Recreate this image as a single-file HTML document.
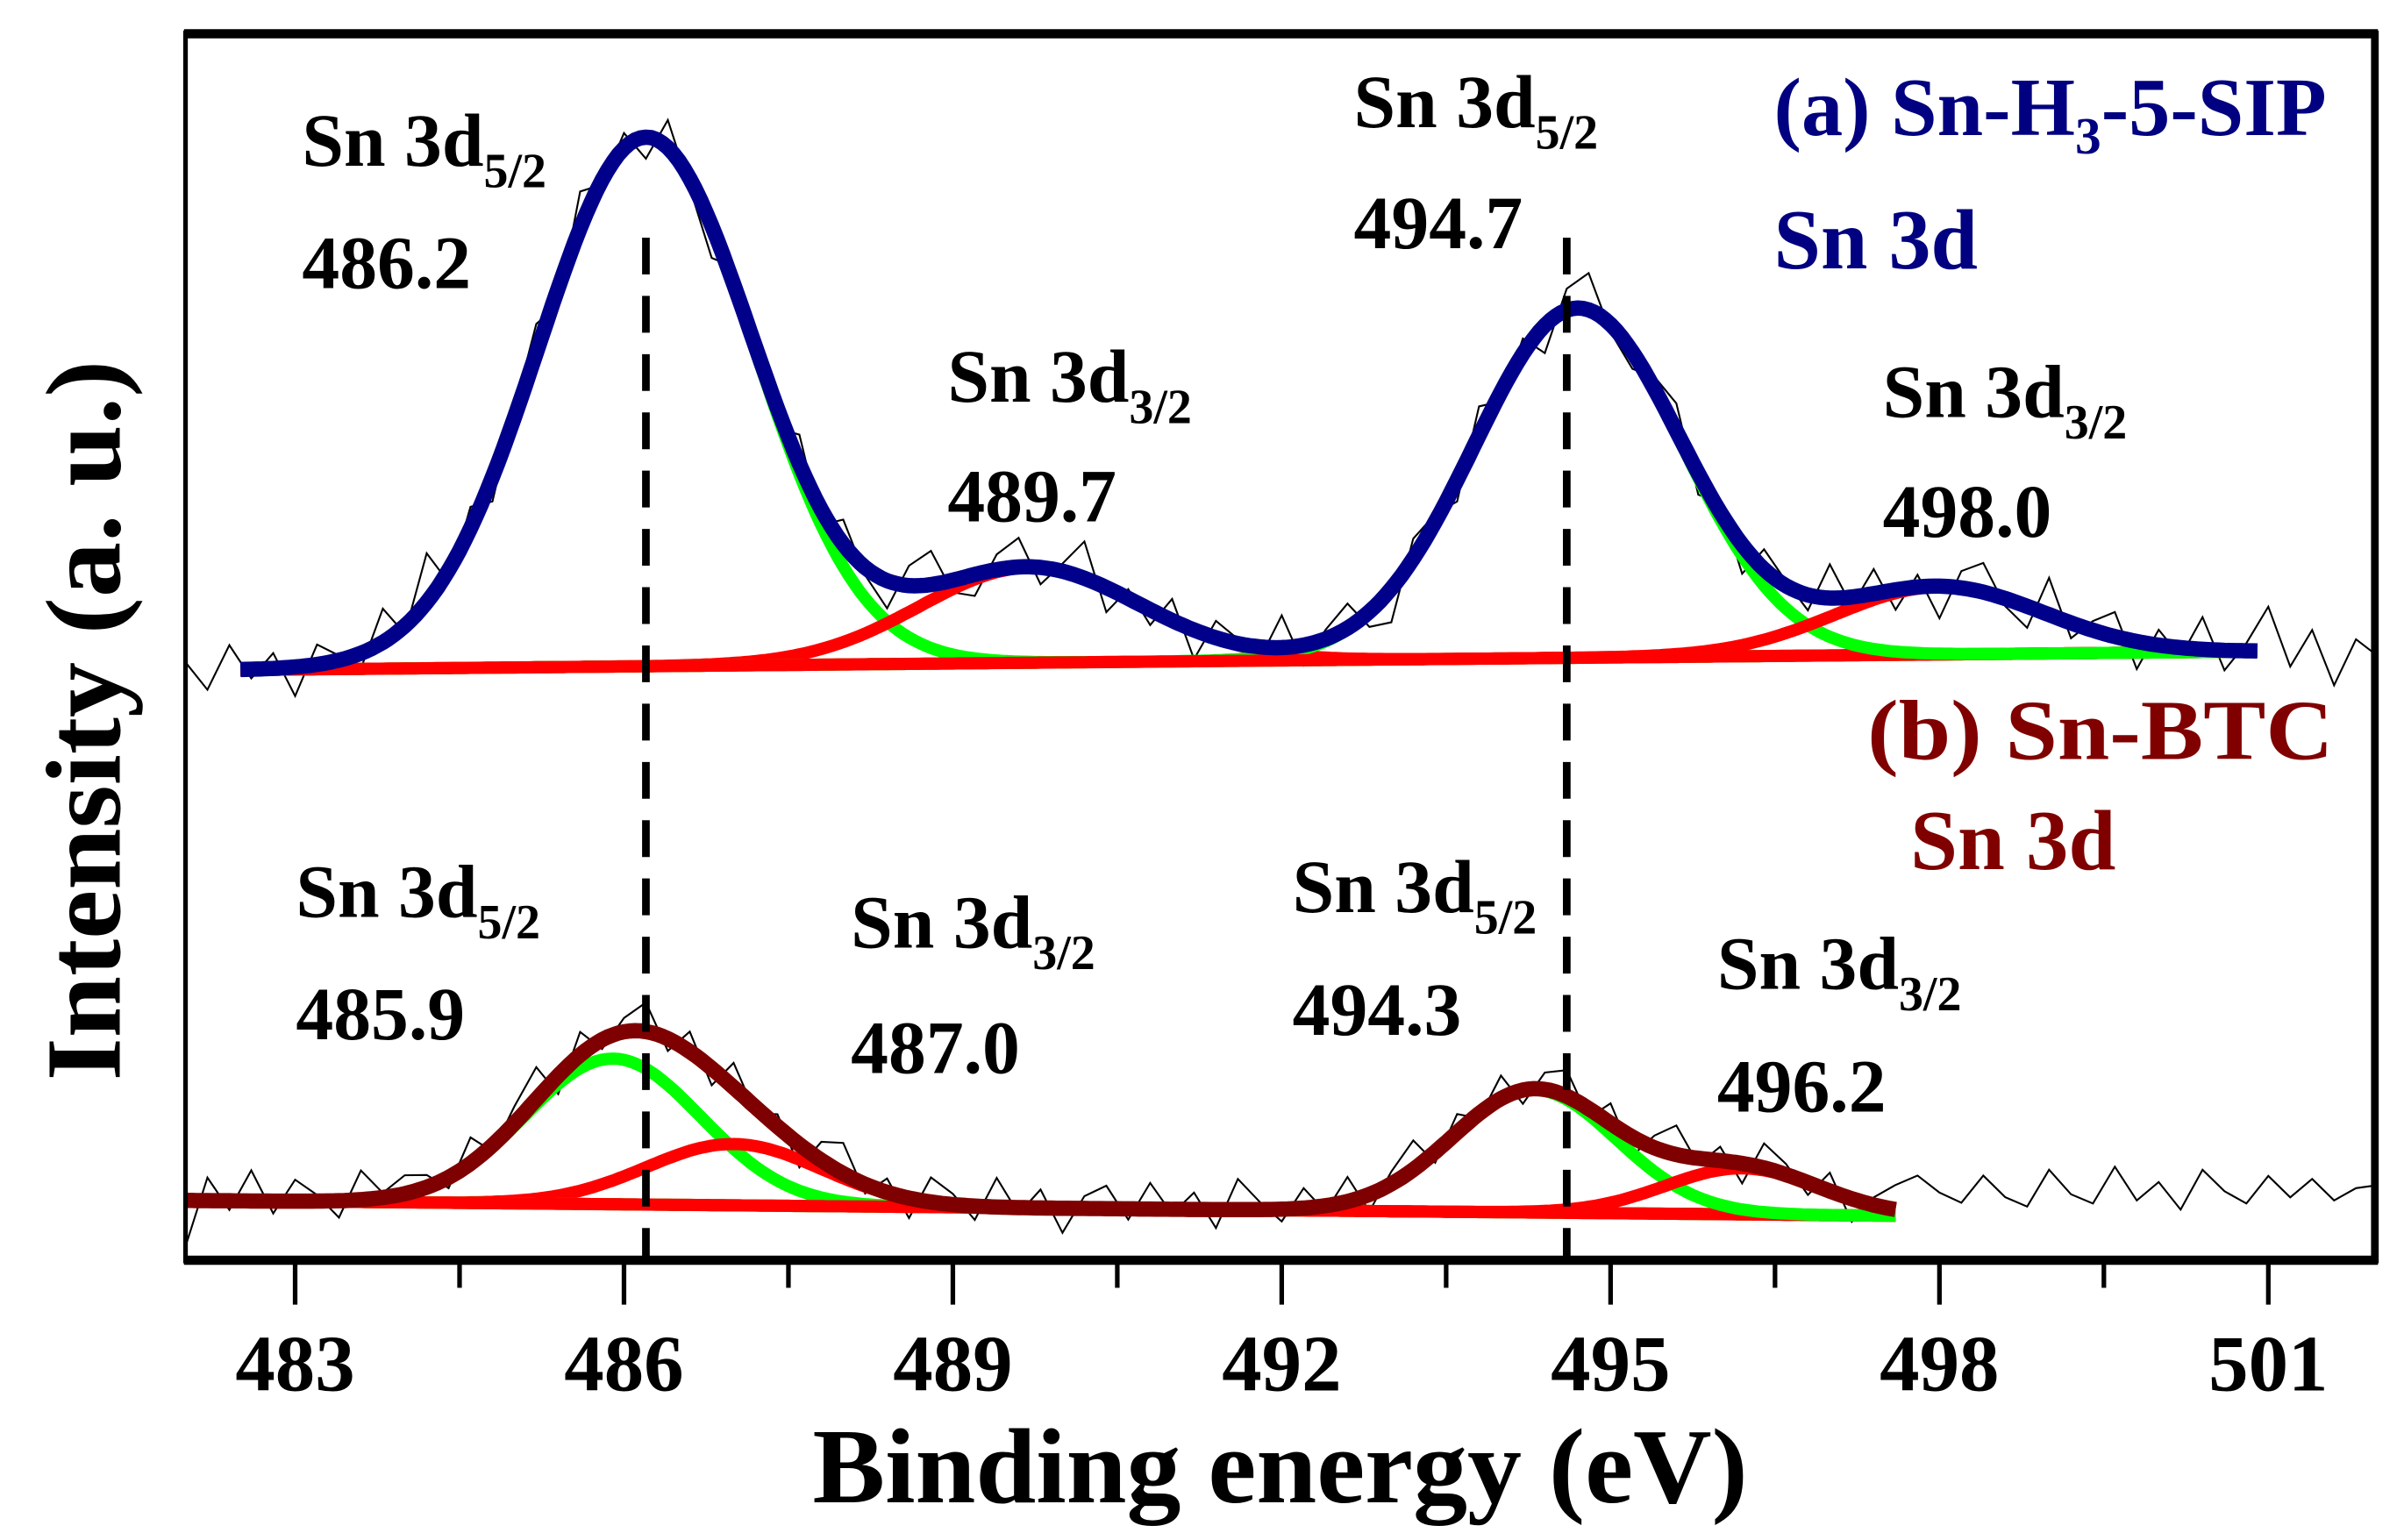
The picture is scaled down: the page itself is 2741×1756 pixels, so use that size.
<!DOCTYPE html>
<html><head><meta charset="utf-8">
<style>html,body{margin:0;padding:0;background:#fff}svg{display:block}
text{font-family:"Liberation Serif","Times New Roman",serif;font-weight:bold}</style></head>
<body>
<svg id="chart" width="2741" height="1756" viewBox="0 0 1568 1004.5" preserveAspectRatio="none" xmlns="http://www.w3.org/2000/svg">
<rect x="0" y="0" width="1568" height="1005" fill="#fff"/>
<g id="marks"></g>
<g id="frame">
<line x1="120" y1="22" x2="1551" y2="22" stroke="#000" stroke-width="6"/>
<line x1="121" y1="20" x2="121" y2="824" stroke="#000" stroke-width="3"/>
<line x1="1549" y1="20" x2="1549" y2="824" stroke="#000" stroke-width="5"/>
<line x1="120" y1="822" x2="1551" y2="822" stroke="#000" stroke-width="6"/>
</g>
<g id="ticks"></g>
<text x="835" y="980" font-size="70" text-anchor="middle" textLength="610" lengthAdjust="spacingAndGlyphs">Binding energy (eV)</text>
<text transform="translate(78,470) rotate(-90)" font-size="70" text-anchor="middle" textLength="470" lengthAdjust="spacingAndGlyphs">Intensity (a. u.)</text>
<g font-size="49" fill="#000">
<text x="197" y="108">Sn 3d<tspan font-size="32" dy="14">5/2</tspan></text>
<text x="197" y="188">486.2</text>
<text x="618" y="262">Sn 3d<tspan font-size="32" dy="14">3/2</tspan></text>
<text x="618" y="340">489.7</text>
<text x="883" y="83">Sn 3d<tspan font-size="32" dy="14">5/2</tspan></text>
<text x="883" y="162">494.7</text>
<text x="1228" y="272">Sn 3d<tspan font-size="32" dy="14">3/2</tspan></text>
<text x="1228" y="350">498.0</text>
<text x="193" y="598">Sn 3d<tspan font-size="32" dy="14">5/2</tspan></text>
<text x="193" y="678">485.9</text>
<text x="555" y="618">Sn 3d<tspan font-size="32" dy="14">3/2</tspan></text>
<text x="555" y="700">487.0</text>
<text x="843" y="595">Sn 3d<tspan font-size="32" dy="14">5/2</tspan></text>
<text x="843" y="675">494.3</text>
<text x="1120" y="645">Sn 3d<tspan font-size="32" dy="14">3/2</tspan></text>
<text x="1120" y="725">496.2</text>
</g>
<text x="1157" y="88" font-size="54" fill="#000080">(a) Sn-H<tspan font-size="34" dy="12">3</tspan><tspan dy="-12">-5-SIP</tspan></text>
<text x="1157" y="175" font-size="56" fill="#000080" textLength="133" lengthAdjust="spacingAndGlyphs">Sn 3d</text>
<text x="1218" y="495" font-size="56" fill="#800000" textLength="304" lengthAdjust="spacingAndGlyphs">(b) Sn-BTC</text>
<text x="1246" y="567" font-size="56" fill="#800000" textLength="134" lengthAdjust="spacingAndGlyphs">Sn 3d</text>
</svg>
<script>
const xTicks = [483, 486, 489, 492, 495, 498, 501];
const xMinorTicks = [484.5, 487.5, 490.5, 493.5, 496.5, 499.5];
const refLines = [486.2, 494.6];
// sample (a): baseline endpoints and peak components [center, height, sigma]
const aBaseline = [437, 425];
const aRange = [482.5, 500.9];
const aCenters = [486.2, 489.7, 494.7, 498.0];
const aHeights = [345, 62, 228, 44];
const aSigmas = [0.98, 1.0, 0.95, 0.95];
// sample (b)
const bBaseline = [783, 793];
const bRange = [482.0, 497.6];
const bCenters = [485.9, 487.0, 494.3, 496.2];
const bHeights = [95, 40, 80, 30];
const bSigmas = [0.8, 0.8, 0.75, 0.7];
// raw-data residuals, 482.0..502.0 step 0.2
const aResid = [5,-13,16,-6,10,-19,13,3,-10,22,-5,32,-8,14,-16,6,19,-11,24,-3,10,-14,18,-6,-21,11,5,-13,19,-10,16,-5,-18,13,22,-8,-14,10,19,-11,5,24,-16,6,-10,14,-19,11,3,-8,21,-13,6,16,-10,-22,13,5,-14,19,-6,10,-18,14,24,-5,-11,8,18,-14,6,-19,13,3,-10,22,-6,16,-13,8,-21,11,19,-5,-14,24,-10,6,16,-18,10,-6,21,-13,5,29,-10,14,-22,8,-3];
const bResid = [-30,15,-6,20,-8,14,4,-11,19,3,12,8,-7,17,-4,11,21,-12,15,-6,9,19,-8,13,-11,16,-4,8,-15,12,20,-6,9,-13,16,7,-9,19,-4,12,-16,8,15,-7,17,-3,11,-12,20,5,-8,13,-4,16,-11,8,19,-7,12,-3,15,-9,11,17,-6,13,-12,8,19,-4,9,-13,16,7,-8,12,-15,5,16,24,14,8,26,12,6,30,14,8,32,10,22,4,30,16,8,26,12,24,10,18,20];
const X = e => 121 + (e - 482.0) * 71.5;
const base = (b, r, e) => b[0] + (b[1] - b[0]) * (e - r[0]) / (r[1] - r[0]);
const g = (e, c, h, s) => h * Math.exp(-0.5 * ((e - c) / s) ** 2);
const NS = 'http://www.w3.org/2000/svg';
const marks = document.getElementById('marks');
const ticks = document.getElementById('ticks');
function mk(tag, attrs, parent) {
  const el = document.createElementNS(NS, tag);
  for (const k in attrs) el.setAttribute(k, attrs[k]);
  parent.appendChild(el); return el;
}
function path(pts) { return 'M' + pts.map(p => p[0].toFixed(1) + ',' + p[1].toFixed(1)).join('L'); }
function series(b, r, C, H, S, resid, envColor, prefix) {
  const raw = [];
  for (let i = 0; i < resid.length; i++) {
    const e = 482.0 + i * 0.2;
    let v = 0; for (let k = 0; k < C.length; k++) v += g(e, C[k], H[k], S[k]);
    const bb = base(b, r, Math.min(Math.max(e, r[0]), r[1]));
    raw.push([X(e), bb - v - resid[i]]);
  }
  const rp = mk('path', {d: path(raw), fill: 'none', stroke: '#000', 'stroke-width': 1.2}, marks);
  
  
  const bl = mk('line', {x1: X(r[0]), y1: b[0], x2: X(r[1]), y2: b[1], stroke: '#ff0000', 'stroke-width': 8}, marks);
  
  
  for (let k = 0; k < C.length; k++) {
    const pts = [];
    for (let e = r[0]; e <= r[1] + 1e-9; e += 0.05) pts.push([X(e), base(b, r, e) - g(e, C[k], H[k], S[k])]);
    const p = mk('path', {d: path(pts), fill: 'none', stroke: (k % 2 === 0) ? '#00ff00' : '#ff0000', 'stroke-width': 8, 'stroke-linejoin': 'round'}, marks);
    
    
  }
  const env = [];
  for (let e = r[0]; e <= r[1] + 1e-9; e += 0.05) {
    let v = 0; for (let k = 0; k < C.length; k++) v += g(e, C[k], H[k], S[k]);
    env.push([X(e), base(b, r, e) - v]);
  }
  const ep = mk('path', {d: path(env), fill: 'none', stroke: envColor, 'stroke-width': 10, 'stroke-linejoin': 'round'}, marks);
  
  
}
series(bBaseline, bRange, bCenters, bHeights, bSigmas, bResid, '#7f0000', 'sample-b');
series(aBaseline, aRange, aCenters, aHeights, aSigmas, aResid, '#00008b', 'sample-a');
refLines.forEach(v => {
  const l = mk('line', {x1: X(v), y1: 155, x2: X(v), y2: 822, stroke: '#000', 'stroke-width': 5, 'stroke-dasharray': '24 14'}, marks);
  
  
});
xTicks.forEach(v => {
  const t = mk('line', {x1: X(v), y1: 822, x2: X(v), y2: 851, stroke: '#000', 'stroke-width': 3}, ticks);
  
  
  const lb = mk('text', {x: X(v), y: 907, 'font-size': 52, 'text-anchor': 'middle'}, ticks);
  lb.textContent = v;
  
  
});
xMinorTicks.forEach(v => {
  const t = mk('line', {x1: X(v), y1: 822, x2: X(v), y2: 840, stroke: '#000', 'stroke-width': 3}, ticks);
  
  
});
</script>
</body></html>
